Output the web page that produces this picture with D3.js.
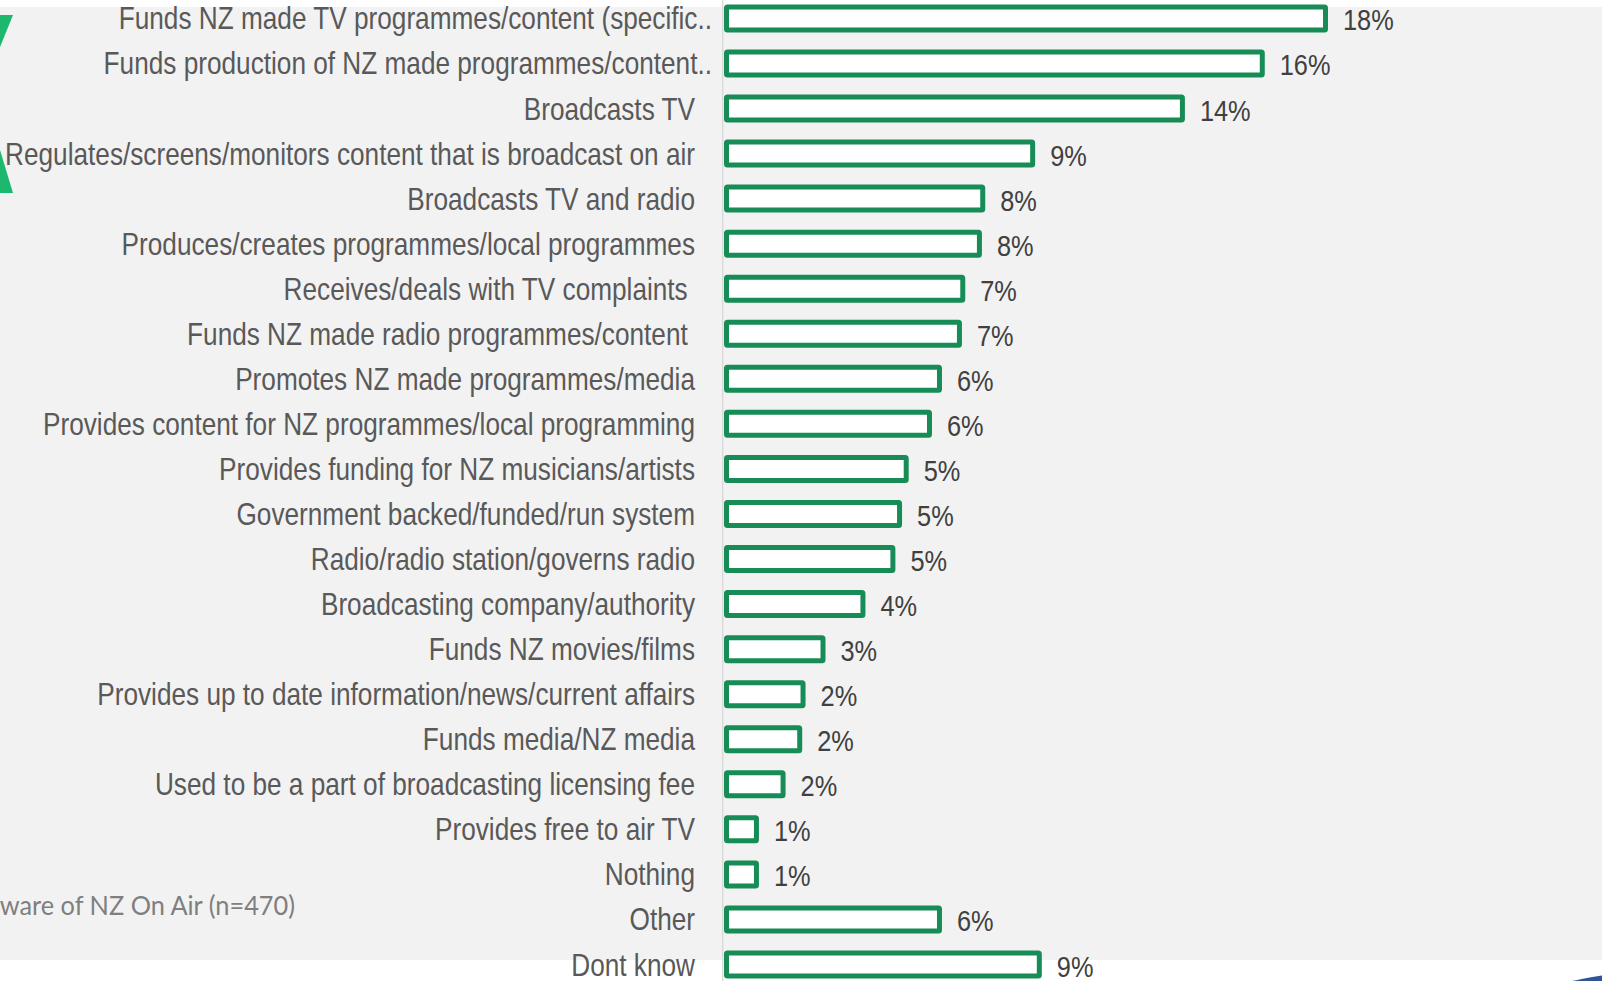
<!DOCTYPE html>
<html>
<head>
<meta charset="utf-8">
<script src="https://cdn.jsdelivr.net/npm/d3@7"></script>
<style>
  html, body { margin: 0; padding: 0; background: #ffffff; }
  svg { display: block; }
  text { white-space: pre; }
</style>
</head>
<body>
<svg id="chart" width="1602" height="981"></svg>
<script>
// Survey answers: what NZ On Air does (share of respondents)
const categories = [
  "Funds NZ made TV programmes/content (specific..",
  "Funds production of NZ made programmes/content..",
  "Broadcasts TV",
  "Regulates/screens/monitors content that is broadcast on air",
  "Broadcasts TV and radio",
  "Produces/creates programmes/local programmes",
  "Receives/deals with TV complaints ",
  "Funds NZ made radio programmes/content ",
  "Promotes NZ made programmes/media",
  "Provides content for NZ programmes/local programming",
  "Provides funding for NZ musicians/artists",
  "Government backed/funded/run system",
  "Radio/radio station/governs radio",
  "Broadcasting company/authority",
  "Funds NZ movies/films",
  "Provides up to date information/news/current affairs",
  "Funds media/NZ media",
  "Used to be a part of broadcasting licensing fee",
  "Provides free to air TV",
  "Nothing",
  "Other",
  "Dont know"
];

const values = [
  18.0, 16.1, 13.7, 9.2, 7.7, 7.6, 7.1, 7.0, 6.4, 6.1, 5.4,
  5.2, 5.0, 4.1, 2.9, 2.3, 2.2, 1.7, 0.9, 0.9, 6.4, 9.4
];

const footnote = "Base: Those aware of NZ On Air (n=470)";

const data = categories.map((c, i) => ({ category: c, value: values[i] }));

const W = 1602, H = 981;
const narrow = 0.845;   // horizontal squeeze to get a narrow sans face
const svg = d3.select("#chart");

// Background and grey panel
svg.append("rect").attr("width", W).attr("height", H).attr("fill", "#ffffff");
svg.append("rect").attr("x", 0).attr("y", 7).attr("width", W).attr("height", 953)
  .attr("fill", "#f2f2f2");

// Green chevron accent at the top-left edge
const accent = svg.append("g").attr("fill", "#1cb86e");
accent.append("path").attr("d", "M0,15 L13,15 L0,47 Z");
accent.append("path").attr("d", "M0,150 L13,193 L0,193 Z");

// Blue logo arc at the bottom-right corner
svg.append("circle").attr("cx", 1640).attr("cy", 1266).attr("r", 293)
  .attr("fill", "#2f5597");

// Scales
const x = d3.scaleLinear().domain([0, 18]).range([726.5, 1325.5]);
const y = d3.scalePoint().domain(categories).range([18.4, 964.5]);
const barH = 23;

// Category axis line
svg.append("line")
  .attr("x1", 722.7).attr("x2", 722.7).attr("y1", 0).attr("y2", H)
  .attr("stroke", "#d9d9d9").attr("stroke-width", 1.4);

// Bars: white fill with a heavy green outline
svg.append("g").selectAll("rect").data(data).join("rect")
  .attr("x", x(0))
  .attr("y", d => y(d.category) - barH / 2)
  .attr("width", d => x(d.value) - x(0))
  .attr("height", barH)
  .attr("rx", 1)
  .attr("fill", "#ffffff")
  .attr("stroke", "#178c56")
  .attr("stroke-width", 5)
  .attr("stroke-linejoin", "round");

// Value labels
svg.append("g").selectAll("text").data(data).join("text")
  .attr("transform", d => `translate(${x(d.value) + 17.5},${y(d.category) + 12}) scale(${narrow},1)`)
  .attr("font-family", "'Liberation Sans', Arial, sans-serif")
  .attr("font-size", 30)
  .attr("fill", "#404040")
  .text(d => Math.round(d.value) + "%");

// Category labels (truncated labels run a little further into the gap)
svg.append("g").selectAll("text").data(data).join("text")
  .attr("transform", d => `translate(${d.category.endsWith("..") ? 712 : 695},${y(d.category) + 11}) scale(${narrow},1)`)
  .attr("text-anchor", "end")
  .attr("font-family", "'Liberation Sans', Arial, sans-serif")
  .attr("font-size", 31)
  .attr("fill", "#595959")
  .text(d => d.category);

// Base note, partly hidden off the left edge
svg.append("text")
  .attr("transform", "translate(295,915) scale(0.975,1)")
  .attr("text-anchor", "end")
  .attr("font-family", "Lato, 'Open Sans', sans-serif")
  .attr("font-size", 26)
  .attr("fill", "#7f7f7f")
  .text(footnote);
</script>
</body>
</html>
